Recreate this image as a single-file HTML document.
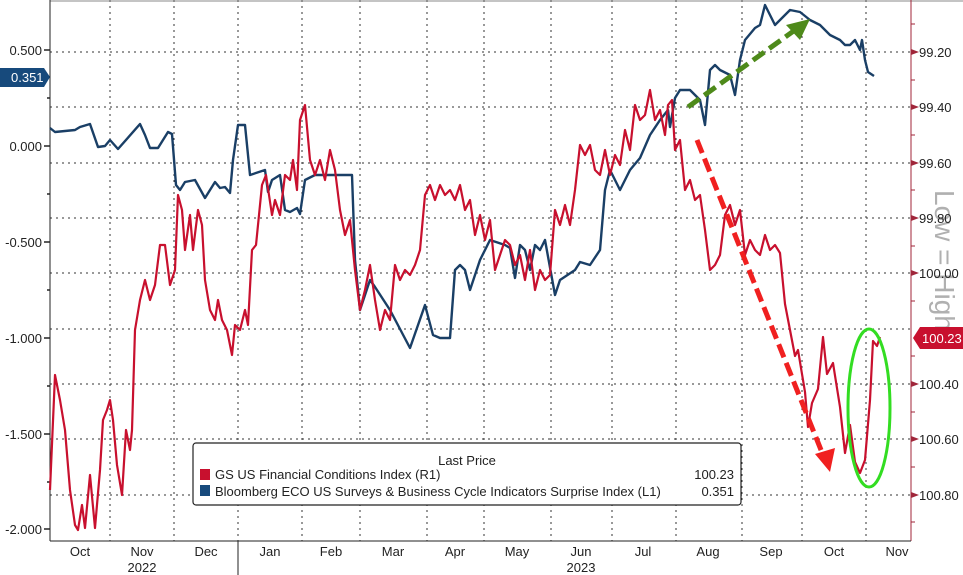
<!DOCTYPE html>
<html><head><meta charset="utf-8"><style>
html,body{margin:0;padding:0;background:#fff;}
svg{display:block;font-family:"Liberation Sans",sans-serif;}
</style></head><body>
<svg width="963" height="575" viewBox="0 0 963 575" xmlns="http://www.w3.org/2000/svg">
<rect width="963" height="575" fill="#fff"/>
<g stroke="#333" stroke-width="1" stroke-dasharray="2,4" fill="none">
<line x1="50" x2="911" y1="52" y2="52"/><line x1="50" x2="911" y1="107" y2="107"/>
<line x1="50" x2="911" y1="163" y2="163"/><line x1="50" x2="911" y1="218" y2="218"/>
<line x1="50" x2="911" y1="273" y2="273"/><line x1="50" x2="911" y1="329" y2="329"/>
<line x1="50" x2="911" y1="384" y2="384"/><line x1="50" x2="911" y1="439" y2="439"/>
<line x1="50" x2="911" y1="495" y2="495"/>
<line x1="110" x2="110" y1="0" y2="541"/><line x1="174" x2="174" y1="0" y2="541"/>
<line x1="238" x2="238" y1="0" y2="541"/><line x1="302" x2="302" y1="0" y2="541"/>
<line x1="360" x2="360" y1="0" y2="541"/><line x1="427" x2="427" y1="0" y2="541"/>
<line x1="484" x2="484" y1="0" y2="541"/><line x1="551" x2="551" y1="0" y2="541"/>
<line x1="612" x2="612" y1="0" y2="541"/><line x1="676" x2="676" y1="0" y2="541"/>
<line x1="742" x2="742" y1="0" y2="541"/><line x1="802" x2="802" y1="0" y2="541"/>
<line x1="866" x2="866" y1="0" y2="541"/>
</g>
<line x1="50" y1="1" x2="963" y2="1" stroke="#888"/>
<line x1="50" y1="0" x2="50" y2="541" stroke="#222"/>
<line x1="911" y1="0" x2="911" y2="541" stroke="#a0263a"/>
<line x1="50" y1="541" x2="911" y2="541" stroke="#222"/>
<line x1="238" y1="541" x2="238" y2="575" stroke="#222"/>
<g stroke="#222" stroke-width="1.5">
<line x1="44" x2="50" y1="50" y2="50"/><line x1="44" x2="50" y1="146" y2="146"/>
<line x1="44" x2="50" y1="242" y2="242"/><line x1="44" x2="50" y1="338" y2="338"/>
<line x1="44" x2="50" y1="434" y2="434"/><line x1="44" x2="50" y1="529" y2="529"/>
<line x1="47" x2="50" y1="98" y2="98"/><line x1="47" x2="50" y1="194" y2="194"/>
<line x1="47" x2="50" y1="290" y2="290"/><line x1="47" x2="50" y1="386" y2="386"/>
<line x1="47" x2="50" y1="482" y2="482"/>
</g>
<g font-size="13" fill="#222" text-anchor="end">
<text x="42" y="55">0.500</text><text x="42" y="151">0.000</text>
<text x="42" y="247">-0.500</text><text x="42" y="343">-1.000</text>
<text x="42" y="439">-1.500</text><text x="42" y="534">-2.000</text>
</g>
<g fill="#a0263a">
<polygon points="911,49 919,52 911,55"/><polygon points="911,104 919,107 911,110"/>
<polygon points="911,160 919,163 911,166"/><polygon points="911,215 919,218 911,221"/>
<polygon points="911,270 919,273 911,276"/><polygon points="911,381 919,384 911,387"/>
<polygon points="911,436 919,439 911,442"/><polygon points="911,492 919,495 911,498"/>
</g>
<g stroke="#a0263a"><line x1="911" x2="915" y1="24" y2="24"/><line x1="911" x2="915" y1="80" y2="80"/>
<line x1="911" x2="915" y1="135" y2="135"/><line x1="911" x2="915" y1="190" y2="190"/>
<line x1="911" x2="915" y1="246" y2="246"/><line x1="911" x2="915" y1="301" y2="301"/>
<line x1="911" x2="915" y1="356" y2="356"/><line x1="911" x2="915" y1="412" y2="412"/>
<line x1="911" x2="915" y1="467" y2="467"/><line x1="911" x2="915" y1="522" y2="522"/></g>
<text x="935" y="190" font-size="28" fill="#b0b0b0" transform="rotate(90 935 190)">Low = High</text>
<g font-size="13" fill="#222">
<text x="919" y="57">99.20</text><text x="919" y="112">99.40</text>
<text x="919" y="168">99.60</text><text x="919" y="223">99.80</text>
<text x="919" y="278">100.00</text><text x="919" y="389">100.40</text>
<text x="919" y="444">100.60</text><text x="919" y="500">100.80</text>
</g>
<polygon points="913,338 920,327 963,327 963,349 920,349" fill="#c8102e"/>
<text x="922" y="343" font-size="13" fill="#fff">100.23</text>
<polygon points="0,68 44,68 50,77 44,87 0,87" fill="#174a7c"/>
<text x="11" y="82" font-size="13" fill="#fff">0.351</text>
<g font-size="13" fill="#222" text-anchor="middle">
<text x="80" y="556">Oct</text><text x="142" y="556">Nov</text><text x="206" y="556">Dec</text>
<text x="270" y="556">Jan</text><text x="331" y="556">Feb</text><text x="393" y="556">Mar</text>
<text x="455" y="556">Apr</text><text x="517" y="556">May</text><text x="581" y="556">Jun</text>
<text x="643" y="556">Jul</text><text x="708" y="556">Aug</text><text x="771" y="556">Sep</text>
<text x="834" y="556">Oct</text><text x="897" y="556">Nov</text>
<text x="142" y="572">2022</text><text x="581" y="572">2023</text>
</g>
<polyline fill="none" stroke="#1a3f66" stroke-width="2.4" stroke-linejoin="round" points="50,128 55,132 75,130 80,127 90,124 98,147 105,146 110,140 118,149 140,124 145,135 150,148 158,148 168,132 172,134 176,185 180,190 185,182 195,180 205,198 215,182 220,188 225,187 230,193 233,160 238,125 245,125 250,175 265,170 268,192 272,180 280,175 285,210 290,212 297,208 300,214 305,180 315,175 352,175 355,260 360,310 370,280 375,287 390,310 410,348 425,305 433,335 440,338 450,338 455,270 460,265 465,270 470,290 480,260 490,240 505,245 510,248 515,278 520,245 525,250 530,270 535,245 540,250 545,240 555,295 560,280 575,270 580,262 590,265 600,250 605,190 610,170 615,180 620,190 630,170 640,158 650,135 660,120 668,110 670,127 675,98 680,90 690,90 700,100 705,125 710,70 715,65 720,70 730,75 735,95 740,60 745,40 755,28 760,25 765,5 770,15 775,25 785,15 790,10 800,12 810,20 820,25 830,35 840,40 845,45 850,45 855,40 860,50 862,40 865,60 868,72 874,76"/>
<polyline fill="none" stroke="#c8102e" stroke-width="2.2" stroke-linejoin="round" points="50,490 55,375 60,400 65,430 70,490 75,525 78,530 82,505 85,528 90,475 95,528 100,470 103,420 107,410 110,400 113,420 117,465 122,495 126,430 130,450 132,430 135,330 140,300 145,280 150,300 155,285 160,245 165,245 170,285 175,270 178,195 182,210 185,250 190,215 193,250 198,210 202,225 205,280 210,310 215,320 218,300 222,320 227,330 232,355 235,325 240,330 245,310 248,325 252,250 256,245 262,185 266,175 272,215 275,200 280,215 285,175 290,180 293,160 297,190 300,120 305,105 310,160 315,175 320,160 325,180 330,150 335,170 340,210 345,235 350,220 355,270 360,310 365,290 370,265 375,300 380,330 385,310 390,320 395,265 400,280 405,270 410,275 415,265 420,250 425,195 430,185 435,200 440,185 445,195 450,190 455,200 460,185 465,210 470,200 475,235 480,215 485,240 490,220 495,270 500,255 505,240 510,245 515,265 520,255 525,280 530,250 535,290 540,270 545,280 550,275 555,210 560,225 565,205 570,225 575,190 580,145 585,155 590,145 595,170 600,175 605,150 610,175 615,155 620,165 625,130 630,150 635,105 640,120 645,115 650,90 655,120 660,110 665,135 668,105 672,100 675,150 680,140 685,190 690,180 695,200 700,195 705,230 710,270 715,265 720,255 725,215 730,205 735,225 740,210 745,255 750,240 755,250 760,255 765,235 770,250 775,245 780,253 785,304 795,356 798,350 805,392 808,427 812,403 818,389 823,337 827,374 833,363 840,407 845,453 850,425 855,462 860,473 865,460 870,400 873,341 877,346 880,337"/>
<line x1="688" y1="107" x2="795" y2="30" stroke="#4e8a1a" stroke-width="5" stroke-dasharray="14,6"/>
<polygon points="810,19 786,25 800,40" fill="#4e8a1a"/>
<line x1="697" y1="140" x2="823" y2="455" stroke="#f02020" stroke-width="5" stroke-dasharray="14,6"/>
<polygon points="830,472 815,454 835,448" fill="#f02020"/>
<ellipse cx="869" cy="408" rx="21" ry="79" fill="none" stroke="#33dd22" stroke-width="3"/>
<rect x="193" y="443" width="548" height="62" rx="3" fill="#fff" stroke="#222" stroke-width="1.2"/>
<text x="467" y="465" font-size="13" fill="#222" text-anchor="middle">Last Price</text>
<rect x="200" y="469" width="10" height="11" fill="#c8102e"/>
<rect x="200" y="485" width="10" height="11" fill="#174a7c"/>
<text x="215" y="479" font-size="13" fill="#222">GS US Financial Conditions Index  (R1)</text>
<text x="215" y="496" font-size="13" fill="#222">Bloomberg ECO US Surveys &amp; Business Cycle Indicators Surprise Index  (L1)</text>
<text x="734" y="479" font-size="13" fill="#222" text-anchor="end">100.23</text>
<text x="734" y="496" font-size="13" fill="#222" text-anchor="end">0.351</text>
</svg>
</body></html>
